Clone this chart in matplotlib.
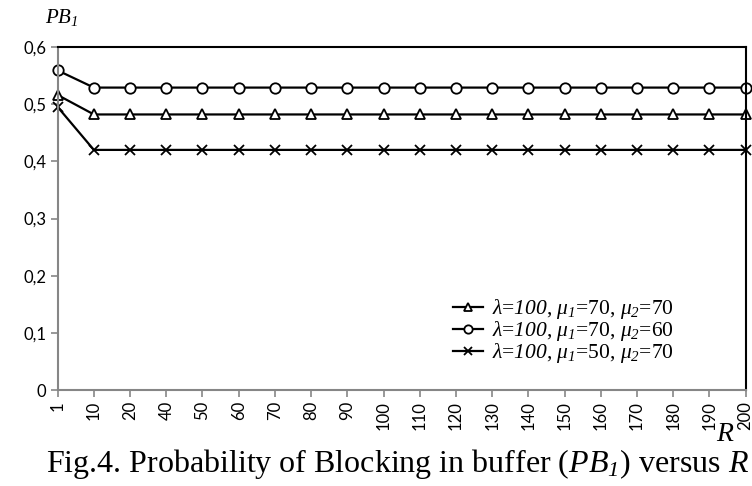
import matplotlib
matplotlib.use('Agg')
import matplotlib.pyplot as plt
import numpy as np

plt.rcParams['mathtext.fontset'] = 'custom'
plt.rcParams['mathtext.rm'] = 'Liberation Serif:italic'
plt.rcParams['mathtext.it'] = 'Liberation Serif:italic'

# R values (categories) and blocking probabilities
r_labels = ['1', '10', '20', '40', '50', '60', '70', '80', '90', '100',
            '110', '120', '130', '140', '150', '160', '170', '180', '190', '200']
pb_70_70 = [0.516] + [0.482] * 19
pb_70_60 = [0.559] + [0.529] * 19
pb_50_70 = [0.495] + [0.420] * 19
y_ticks = [0, 0.1, 0.2, 0.3, 0.4, 0.5, 0.6]

labels = [r'$\lambda$=$100$, $\mu_1$=70, $\mu_2$=70',
          r'$\lambda$=$100$, $\mu_1$=70, $\mu_2$=60',
          r'$\lambda$=$100$, $\mu_1$=50, $\mu_2$=70']

fig = plt.figure(figsize=(7.52, 4.86), dpi=100)
ax = fig.add_axes([0.0767, 0.1975, 0.9147, 0.7058])

x = np.arange(len(r_labels))
style = dict(color='black', linewidth=1.6, markersize=7.5,
             markeredgewidth=1.3, markerfacecolor='white', clip_on=False)
ax.plot(x, pb_70_70, marker='^', label=labels[0], **style)
ax.plot(x, pb_70_60, marker='o', label=labels[1], **style)
ax.plot(x, pb_50_70, marker='x', label=labels[2], **style)

ax.set_xlim(0, len(r_labels) - 1)
ax.set_ylim(0, 0.6)
ax.set_xticks(x)
ax.set_xticklabels(r_labels, rotation=90, family='Lato', fontsize=12)
ax.set_yticks(y_ticks)
ax.set_yticklabels([('%g' % v).replace('.', ',') for v in y_ticks],
                   family='Lato', fontsize=12)

gray = '#868686'
for side in ['left', 'bottom']:
    ax.spines[side].set_color(gray)
    ax.spines[side].set_linewidth(1.5)
for side in ['top', 'right']:
    ax.spines[side].set_color('black')
    ax.spines[side].set_linewidth(1.5)
ax.tick_params(axis='both', direction='out', length=5, width=1.2, color=gray, pad=3)

leg = ax.legend(loc='upper left', bbox_to_anchor=(0.602, 0.388),
                bbox_transform=fig.transFigure, frameon=False,
                prop={'family': 'Liberation Serif', 'size': 15.5},
                handlelength=1.4, handletextpad=0.44, labelspacing=-0.1,
                borderpad=0, borderaxespad=0, markerscale=0.8)

fig.text(0.06, 0.965, r'$PB_1$', fontsize=15, va='center', ha='left')
fig.text(0.964, 0.106, 'R', family='Liberation Serif', style='italic',
         fontsize=20, va='center', ha='center')
fig.text(0.528, 0.045, r'Fig.4. Probability of Blocking in buffer ($PB_1$) versus $R$',
         family='Liberation Serif', fontsize=23, va='center', ha='center')

fig.savefig('out.png', dpi=100)
